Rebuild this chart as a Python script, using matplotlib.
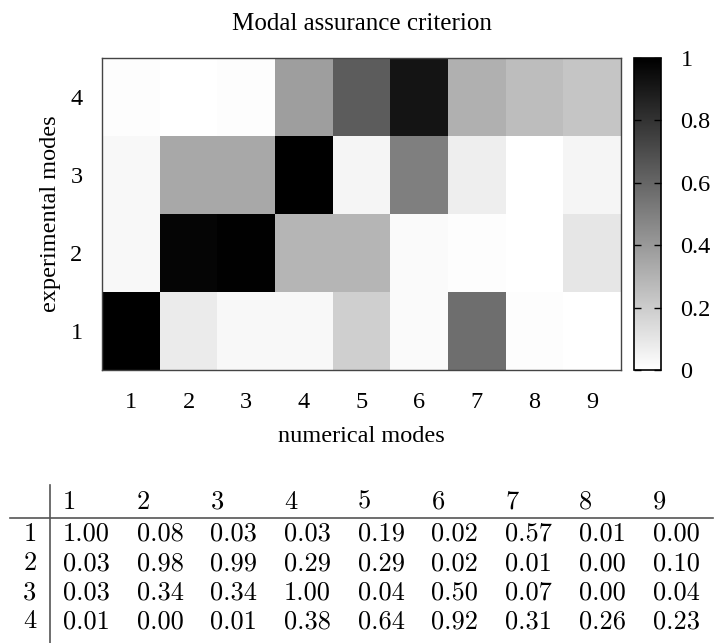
import numpy as np
import matplotlib
matplotlib.use("Agg")
import matplotlib.pyplot as plt
from matplotlib.lines import Line2D

# MAC values: rows = experimental modes, columns = numerical modes
num_modes = [1, 2, 3, 4, 5, 6, 7, 8, 9]
exp_modes = [1, 2, 3, 4]
mac_row1 = [1.00, 0.08, 0.03, 0.03, 0.19, 0.02, 0.57, 0.01, 0.00]
mac_row2 = [0.03, 0.98, 0.99, 0.29, 0.29, 0.02, 0.01, 0.00, 0.10]
mac_row3 = [0.03, 0.34, 0.34, 1.00, 0.04, 0.50, 0.07, 0.00, 0.04]
mac_row4 = [0.01, 0.00, 0.01, 0.38, 0.64, 0.92, 0.31, 0.26, 0.23]
cbar_ticks = [0, 0.2, 0.4, 0.6, 0.8, 1]
cbar_labels = ["0", "0.2", "0.4", "0.6", "0.8", "1"]

mac = np.array([mac_row1, mac_row2, mac_row3, mac_row4])

W, H = 717, 643
serif = "Liberation Serif"
fs = 17.5

fig = plt.figure(figsize=(W / 100, H / 100), dpi=100)

def px_box(x0, y0, x1, y1):
    # pixel box (top-left origin) -> figure fraction rect
    return [x0 / W, 1 - y1 / H, (x1 - x0) / W, (y1 - y0) / H]

ax = fig.add_axes(px_box(102, 58, 621, 370))
im = ax.imshow(mac, cmap="gray_r", vmin=0, vmax=1, origin="lower", aspect="auto",
               interpolation="nearest",
               extent=[0.5, len(num_modes) + 0.5, 0.5, len(exp_modes) + 0.5])
ax.set_xticks(num_modes)
ax.set_yticks(exp_modes)
ax.set_xticklabels([str(m) for m in num_modes], family=serif, fontsize=fs)
ax.set_yticklabels([str(m) for m in exp_modes], family=serif, fontsize=fs)
ax.tick_params(length=0)
ax.tick_params(axis="x", pad=16)
ax.tick_params(axis="y", pad=14)
for s in ax.spines.values():
    s.set_color("#444444")
    s.set_linewidth(1.0)
ax.set_xlabel("numerical modes", family=serif, fontsize=fs, labelpad=9)
ax.set_ylabel("experimental modes", family=serif, fontsize=fs, labelpad=7)
ax.set_title("Modal assurance criterion", family=serif, fontsize=18, pad=20)

cax = fig.add_axes(px_box(634, 58, 661, 370))
cb = fig.colorbar(im, cax=cax)
cb.set_ticks(cbar_ticks)
cb.set_ticklabels(cbar_labels)
cax.tick_params(which="both", direction="in", length=5, width=1, left=True, right=True,
                labelright=True, labelleft=False, pad=14, labelsize=fs)
for lab in cax.get_yticklabels():
    lab.set_family(serif)
cb.outline.set_linewidth(1.2)
cb.outline.set_edgecolor("black")

# table of values below the plot
tfont = "cmr10"
tfs = 19
col_x0, col_dx = 63, 73.7
header_y = 502
row_y0, row_dy = 534, 29.2
rowlab_x = 30

for j, m in enumerate(num_modes):
    fig.text((col_x0 + j * col_dx) / W, 1 - header_y / H, str(m),
             family=tfont, fontsize=tfs, ha="left", va="center")
for i, (e, row) in enumerate(zip(exp_modes, mac)):
    y = 1 - (row_y0 + i * row_dy) / H
    fig.text(rowlab_x / W, y, str(e), family=tfont, fontsize=tfs, ha="center", va="center")
    for j, v in enumerate(row):
        fig.text((col_x0 + j * col_dx) / W, y, f"{v:.2f}",
                 family=tfont, fontsize=tfs, ha="left", va="center")

fig.add_artist(Line2D([50 / W, 50 / W], [1 - 485 / H, 0], color="#555555", lw=1.2))
fig.add_artist(Line2D([10 / W, 713 / W], [1 - 518 / H, 1 - 518 / H], color="#555555", lw=1.2))

fig.savefig("out.png", dpi=100)
